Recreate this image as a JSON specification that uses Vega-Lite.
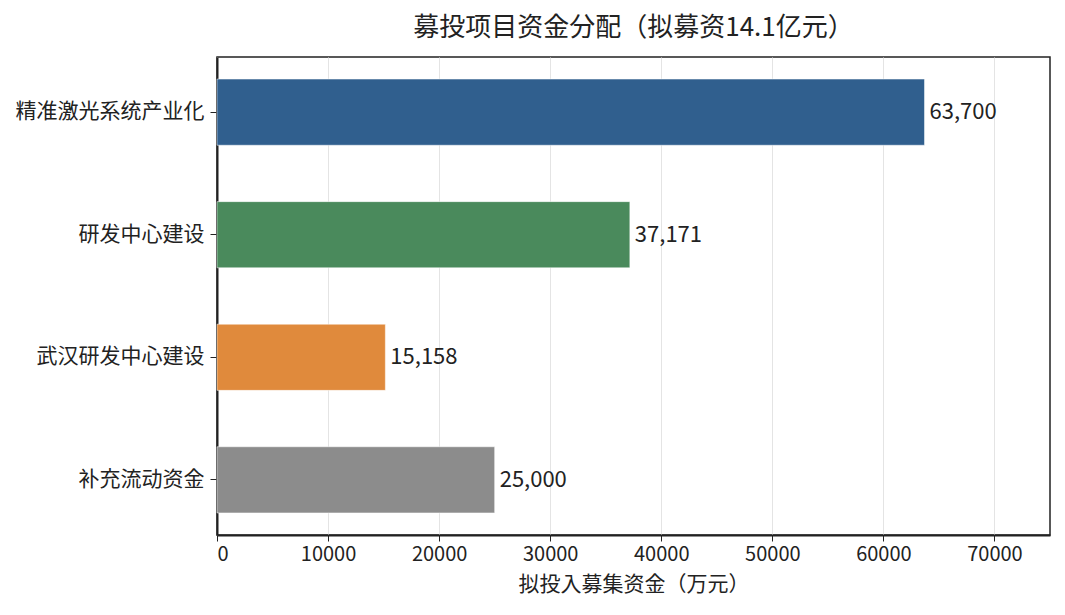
{
  "$schema": "https://vega.github.io/schema/vega-lite/v6.json",
  "width": 833,
  "height": 478,
  "autosize": {"type": "none"},
  "padding": {"left": 217, "top": 57, "right": 15, "bottom": 80},
  "background": "white",
  "title": {
    "text": "募投项目资金分配（拟募资14.1亿元）",
    "fontSize": 26,
    "fontWeight": "normal",
    "font": "Noto Sans CJK JP",
    "color": "#222222",
    "offset": 16,
    "anchor": "middle"
  },
  "data": {
    "values": [
      {"project": "精准激光系统产业化", "amount": 63700, "color": "#305f8e"},
      {"project": "研发中心建设", "amount": 37171, "color": "#4a8a5c"},
      {"project": "武汉研发中心建设", "amount": 15158, "color": "#e08a3c"},
      {"project": "补充流动资金", "amount": 25000, "color": "#8c8c8c"}
    ]
  },
  "encoding": {
    "y": {
      "field": "project",
      "type": "nominal",
      "sort": null,
      "title": null,
      "scale": {"paddingInner": 0.46, "paddingOuter": 0.18},
      "axis": {
        "labelFontSize": 21,
        "labelFont": "Noto Sans CJK JP",
        "labelColor": "#222222",
        "labelPadding": 6,
        "labelLimit": 300,
        "tickSize": 7,
        "tickColor": "#222222",
        "domainColor": "#222222",
        "domainWidth": 2
      }
    },
    "x": {
      "field": "amount",
      "type": "quantitative",
      "title": "拟投入募集资金（万元）",
      "scale": {"domain": [0, 75000], "nice": false},
      "axis": {
        "values": [0, 10000, 20000, 30000, 40000, 50000, 60000, 70000],
        "format": "d",
        "labelFontSize": 20,
        "labelFont": "Noto Sans CJK JP",
        "labelColor": "#222222",
        "labelPadding": 3,
        "tickSize": 6,
        "tickColor": "#222222",
        "domainColor": "#222222",
        "domainWidth": 2,
        "grid": true,
        "gridColor": "#e4e4e4",
        "gridWidth": 1,
        "titleFontSize": 21,
        "titleFontWeight": "normal",
        "titleFont": "Noto Sans CJK JP",
        "titleColor": "#222222",
        "titlePadding": 9
      }
    }
  },
  "layer": [
    {
      "mark": {"type": "bar", "stroke": "white", "strokeWidth": 0.5},
      "encoding": {
        "color": {"field": "color", "type": "nominal", "scale": null}
      }
    },
    {
      "mark": {
        "type": "text",
        "align": "left",
        "baseline": "middle",
        "dx": 5,
        "fontSize": 22,
        "font": "Noto Sans CJK JP",
        "color": "#222222"
      },
      "encoding": {
        "text": {"field": "amount", "type": "quantitative", "format": ","}
      }
    }
  ],
  "config": {
    "view": {"stroke": "#222222", "strokeWidth": 1.5}
  }
}
